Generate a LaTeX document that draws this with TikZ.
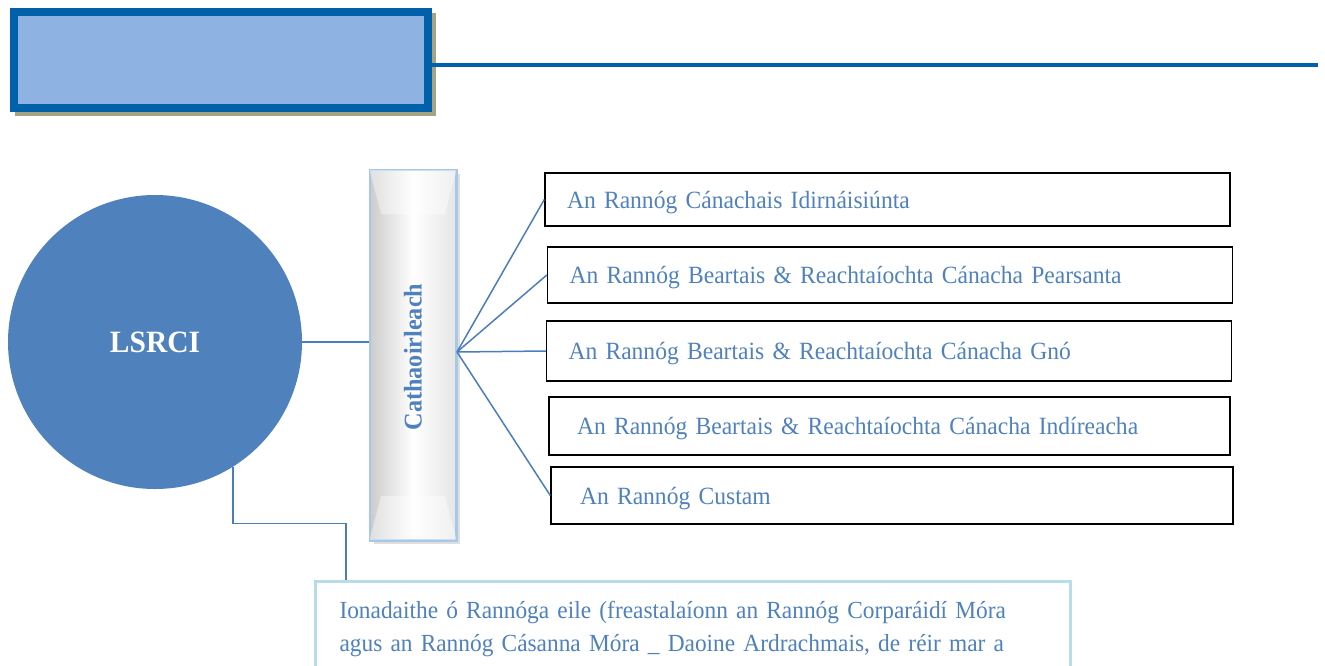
\documentclass[tikz,border=0pt]{standalone}
\usepackage{fontspec}
\setmainfont{Liberation Serif}[FakeStretch=0.95]
\usetikzlibrary{calc}
\hyphenpenalty=10000
\exhyphenpenalty=10000

\definecolor{textblue}{HTML}{4F81BD}
\definecolor{lineblue}{HTML}{4A7EBB}
\definecolor{darkblue}{HTML}{0061AB}
\definecolor{fillblue}{HTML}{8EB3E2}
\definecolor{olivegrey}{HTML}{A4A483}
\definecolor{pillarblue}{HTML}{A9C8E8}
\definecolor{repblue}{HTML}{B7DEE8}

\tikzset{
  rannog/.style={draw=black, line width=1.4pt, text=textblue,
    font=\fontsize{24.8}{28}\selectfont, align=left, text depth=0pt,
    inner xsep=22pt, text width=#1},
  rannog/.default=641pt,
  link/.style={draw=lineblue, line width=1.5pt}
}

\begin{document}
\begin{tikzpicture}[x=1pt,y=-1pt]

    \useasboundingbox (0,0) rectangle (1325,665);

    % title bar
    \fill[olivegrey] (15,13) rectangle (436,116);
    \node[draw=darkblue, fill=fillblue, line width=8pt, minimum width=414pt,
          minimum height=96pt, inner sep=0pt] (title) at (221,60) {};
    \coordinate (titleend) at (1318,65);
    \draw[darkblue, line width=4pt] (title.east |- titleend) -- (titleend);

    % committee
    \node[circle, fill=textblue, minimum size=294pt, text=white,
          font=\fontsize{31}{34}\bfseries] (lsrci) at (155,342) {LSRCI};

    % chair pillar
    \fill[gray!25] (374,174) rectangle (460,544);
    \node[draw=pillarblue, line width=1.5pt, minimum width=86pt, minimum height=370pt,
          left color=gray!40, right color=gray!20, middle color=white,
          inner sep=0pt] (cath) at (413,355) {};
    \fill[white, opacity=0.4] (cath.north west) -- (cath.north east)
          -- ($(cath.north east)+(-12,45)$) -- ($(cath.north west)+(12,45)$) -- cycle;
    \fill[white, opacity=0.4] (cath.south west) -- (cath.south east)
          -- ($(cath.south east)+(-12,-45)$) -- ($(cath.south west)+(12,-45)$) -- cycle;
    \draw[pillarblue, line width=1.5pt] (cath.north west) rectangle (cath.south east);
    \node[rotate=90, text=textblue, font=\fontsize{25.5}{28}\bfseries] (cathtext)
          at (413,357) {Cathaoirleach};

    % divisions
    \node[rannog, minimum height=53pt] (rinn1) at (887.5,199.5) {An Rannóg Cánachais Idirnáisiúnta};
    \node[rannog, minimum height=56pt] (rinn2) at (890,275) {An Rannóg Beartais \& Reachtaíochta Cánacha Pearsanta};
    \node[rannog, minimum height=60pt] (rinn3) at (889,351) {An Rannóg Beartais \& Reachtaíochta Cánacha Gnó};
    \node[rannog=625pt, inner xsep=28pt, minimum height=58pt] (rinn4) at (889.5,426) {An Rannóg Beartais \& Reachtaíochta Cánacha Indíreacha};
    \node[rannog=624pt, inner xsep=29pt, minimum height=57pt] (rinn5) at (892,495.5) {An Rannóg Custam};

    % representatives
    \node[draw=repblue, line width=3pt, fill=white, anchor=north west, align=left,
          text width=707pt, inner xsep=24pt, inner ysep=20pt, text=textblue,
          font=\fontsize{24.6}{33}\selectfont] (rep) at (314,580)
          {Ionadaithe ó Rannóga eile (freastalaíonn an Rannóg Corparáidí Móra\\
           agus an Rannóg Cásanna Móra \_ Daoine Ardrachmais, de réir mar a};

    % connectors
    \draw[link] (lsrci.east) -- (lsrci.east -| cath.west);
    \coordinate (fan) at (457,352);
    \foreach \r in {rinn1,rinn2,rinn3,rinn5}
      \draw[link] (fan) -- (\r.west);
    \coordinate (repin) at (346,580);
    \draw[link] (lsrci.-58) |- ($(lsrci.-58)!0.5!(repin)$) -| (repin);

\end{tikzpicture}
\end{document}
